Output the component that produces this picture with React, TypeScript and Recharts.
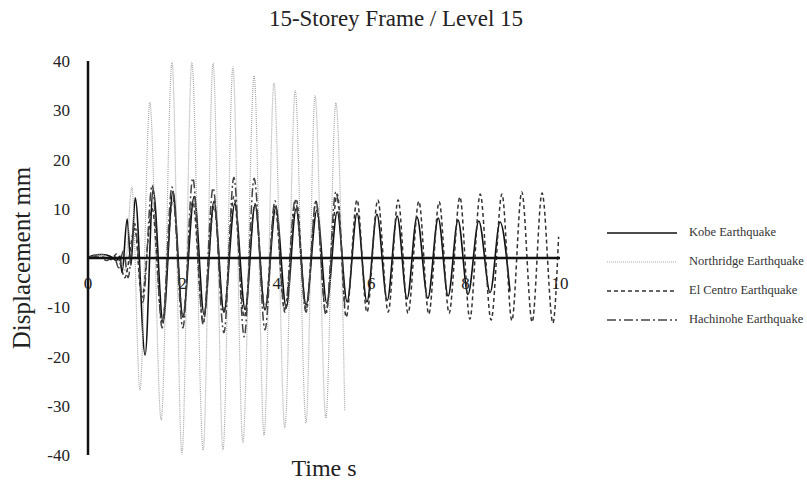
import { LineChart, Line, XAxis, YAxis, ReferenceLine } from 'recharts'

// time (s) / displacement (mm) pairs, read at each peak and trough
const kobe = [
  [0, 0], [0.1, 0.5], [0.3, 0.7], [0.5, 0.2], [0.6, -0.5], [0.68, 0.4], [0.72, -3],
  [0.83, 7.9], [0.91, -1.5], [1.0, 12.2], [1.21, -19.7], [1.38, 13.8], [1.59, -13],
  [1.8, 13.5], [2.01, -12], [2.25, 12.5], [2.46, -11.5], [2.67, 11.5], [2.88, -11],
  [3.11, 11], [3.33, -10.5], [3.54, 10.8], [3.75, -10.5], [3.98, 10.3], [4.2, -10],
  [4.41, 10], [4.62, -9.5], [4.85, 9.7], [5.06, -9.2], [5.28, 9.4], [5.49, -8.9],
  [5.7, 9.1], [5.91, -8.9], [6.12, 8.9], [6.34, -8.6], [6.55, 8.5], [6.76, -8.3],
  [6.97, 8.3], [7.2, -8.2], [7.42, 8.1], [7.63, -7.7], [7.84, 7.7], [8.05, -7.4],
  [8.28, 7.5], [8.52, -7], [8.73, 7.3], [8.94, -6.8]
]

const northridge = [
  [0, 0], [0.1, 0.4], [0.25, 0.8], [0.4, 0.3], [0.5, -0.3], [0.6, 0.2], [0.7, -1],
  [0.78, -2.5], [0.93, 14.4], [1.1, -26.8], [1.31, 31.6], [1.55, -32.9], [1.78, 39.8],
  [1.99, -39.8], [2.2, 39.8], [2.44, -39], [2.65, 39.5], [2.86, -39], [3.07, 38.8],
  [3.28, -37.5], [3.52, 37], [3.73, -36], [3.94, 35.5], [4.17, -34.5], [4.39, 34],
  [4.62, -33.5], [4.81, 33], [5.04, -32.5], [5.25, 31.5], [5.44, -31]
]

const elCentro = [
  [0, 0], [0.3, 0.2], [0.5, -0.3], [0.6, 0.8], [0.68, -1], [0.78, -4], [0.99, 6],
  [1.14, -8], [1.36, 10], [1.57, -13], [1.8, 12], [2.01, -12], [2.22, 11.5],
  [2.44, -13], [2.67, 10.5], [2.88, -11], [3.09, 12.5], [3.31, -12], [3.54, 11],
  [3.75, -10.5], [3.96, 10.5], [4.17, -11], [4.41, 12], [4.62, -10.5], [4.83, 11.5],
  [5.04, -11], [5.28, 13], [5.47, -12], [5.7, 11.8], [5.91, -11], [6.14, 11.8],
  [6.36, -11], [6.57, 11.8], [6.78, -11.2], [7.01, 11.5], [7.22, -11.4], [7.44, 11.4],
  [7.65, -11.2], [7.88, 12.4], [8.09, -12.4], [8.31, 13], [8.54, -12.6], [8.77, 13],
  [8.98, -12.7], [9.19, 13.4], [9.41, -13], [9.62, 13.2], [9.85, -13.2], [9.97, 4.3]
]

const hachinohe = [
  [0, 0], [0.2, 0.3], [0.4, -0.5], [0.55, 0.5], [0.65, -2], [0.75, 1.5], [0.85, -4],
  [0.99, 7], [1.16, -9], [1.36, 14.8], [1.57, -14.2], [1.78, 14.4], [2.01, -14.2],
  [2.22, 16.2], [2.44, -13.5], [2.65, 14.2], [2.88, -15.2], [3.09, 16.4], [3.31, -16],
  [3.52, 16.2], [3.75, -14.6], [3.96, 11.6], [4.17, -10.5], [4.39, 11.8], [4.62, -11],
  [4.83, 11.5], [5.04, -11.5], [5.25, 13.4], [5.44, -10]
]

const seriesNames = ['Kobe Earthquake', 'Northridge Earthquake', 'El Centro Earthquake', 'Hachinohe Earthquake']
const xTicks = [0, 2, 4, 6, 8, 10]
const yTicks = [-40, -30, -20, -10, 0, 10, 20, 30, 40]

const toRows = (pts: number[][]) => pts.map(([t, d]) => ({ t, d }))

const FONT = '"Liberation Serif", "Times New Roman", serif'
const TOP = 61
const PLOT_H = 394
const ZERO_Y = TOP + PLOT_H / 2

const styles = [
  { stroke: '#111', width: 1.6, dash: undefined },
  { stroke: '#a8a8a8', width: 1.2, dash: '1 1' },
  { stroke: '#333', width: 1.5, dash: '4 3' },
  { stroke: '#444', width: 1.5, dash: '9 3 2 3' }
]
const datasets = [kobe, northridge, elCentro, hachinohe]

const XTick = (p: any) => (
  <text x={p.x} y={ZERO_Y + 31} textAnchor="middle" fontSize={17} fontFamily={FONT} fill="#222">
    {p.payload.value}
  </text>
)

export default function App() {
  return (
    <div style={{ position: 'absolute', left: 0, top: 0, width: 807, height: 488, background: '#fff', fontFamily: FONT }}>
      <div style={{ position: 'absolute', left: 396, top: 6, fontSize: 23, color: '#222', transform: 'translateX(-50%)', whiteSpace: 'nowrap' }}>
        15-Storey Frame / Level 15
      </div>
      <div
        style={{
          position: 'absolute', left: 22, top: 258, fontSize: 25, color: '#222', whiteSpace: 'nowrap',
          transform: 'translate(-50%, -50%) rotate(-90deg)'
        }}
      >
        Displacement mm
      </div>
      <div style={{ position: 'absolute', left: 324, top: 455, fontSize: 24, color: '#222', transform: 'translateX(-50%)', whiteSpace: 'nowrap' }}>
        Time s
      </div>
      <LineChart width={807} height={488} margin={{ top: TOP, right: 247, bottom: 32, left: 0 }}>
        <XAxis
          type="number"
          dataKey="t"
          domain={[0, 10]}
          ticks={xTicks}
          axisLine={false}
          tickLine={false}
          height={1}
          tick={<XTick />}
          interval={0}
        />
        <YAxis
          type="number"
          domain={[-40, 40]}
          ticks={yTicks}
          width={88}
          axisLine={{ stroke: '#111', strokeWidth: 2.5 }}
          tickLine={false}
          tickMargin={12}
          interval={0}
          tick={{ fontSize: 17, fill: '#222', fontFamily: FONT }}
        />
        {datasets.map((pts, i) => (
          <Line
            key={seriesNames[i]}
            data={toRows(pts)}
            dataKey="d"
            name={seriesNames[i]}
            type="monotone"
            stroke={styles[i].stroke}
            strokeWidth={styles[i].width}
            strokeDasharray={styles[i].dash}
            dot={false}
            isAnimationActive={false}
          />
        ))}
        <ReferenceLine y={0} stroke="#111" strokeWidth={2.5} />
      </LineChart>
      <div style={{ position: 'absolute', left: 607, top: 218 }}>
        {seriesNames.map((n, i) => (
          <div key={n} style={{ display: 'flex', alignItems: 'center', height: 29, fontSize: 12.5, color: '#333' }}>
            <svg width={70} height={6} style={{ marginRight: 12 }}>
              <line x1={0} y1={3} x2={70} y2={3} stroke={styles[i].stroke} strokeWidth={styles[i].width} strokeDasharray={styles[i].dash} />
            </svg>
            {n}
          </div>
        ))}
      </div>
    </div>
  )
}
